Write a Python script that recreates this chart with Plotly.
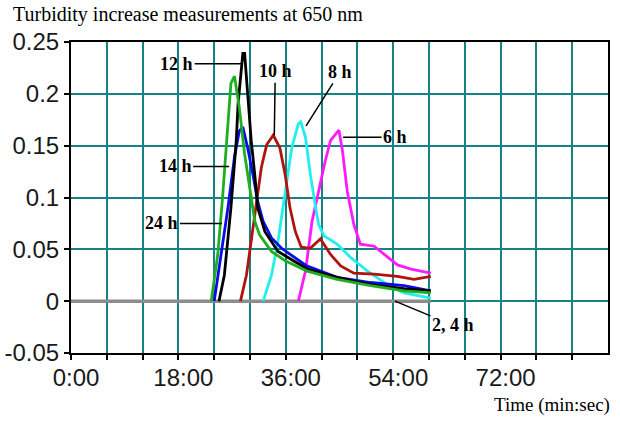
import plotly.graph_objects as go

# ---- data (time in minutes, turbidity increase at 650 nm) ----
t_2_4h = [0, 60.3]
v_2_4h = [0, 0]

t_6h = [38.1, 39.3, 40.4, 41.5, 42.6, 43.5, 44.9, 45.5, 46.3, 47.4, 48.5, 50.8, 52.5, 54.7, 57.0, 60.3]
v_6h = [0, 0.029, 0.077, 0.106, 0.135, 0.155, 0.165, 0.145, 0.106, 0.074, 0.055, 0.053, 0.045, 0.035, 0.031, 0.027]

t_8h = [32.2, 33.6, 34.7, 35.9, 37.0, 38.1, 38.5, 39.3, 40.1, 41.0, 41.5, 42.4, 44.6, 46.9, 49.7, 53.0, 55.8, 60.3]
v_8h = [0, 0.025, 0.058, 0.106, 0.148, 0.171, 0.173, 0.158, 0.123, 0.090, 0.074, 0.063, 0.055, 0.042, 0.029, 0.016, 0.008, 0.003]

t_10h = [28.4, 29.4, 30.2, 31.1, 31.9, 32.8, 33.9, 35.0, 35.9, 36.7, 37.6, 38.6, 40.1, 41.8, 43.5, 45.2, 47.4, 50.8, 54.7, 57.5, 60.3]
v_10h = [0, 0.025, 0.058, 0.096, 0.129, 0.151, 0.160, 0.148, 0.122, 0.090, 0.067, 0.052, 0.051, 0.060, 0.045, 0.034, 0.027, 0.026, 0.024, 0.021, 0.024]

t_14h = [24.0, 25.1, 26.3, 27.4, 28.2, 28.8, 29.6, 30.5, 31.3, 32.2, 33.6, 35.3, 37.5, 39.5, 44.6, 50.2, 55.8, 60.3]
v_14h = [0, 0.041, 0.090, 0.139, 0.164, 0.168, 0.148, 0.122, 0.096, 0.077, 0.061, 0.051, 0.042, 0.034, 0.023, 0.018, 0.015, 0.010]

t_12h = [24.8, 25.7, 26.8, 27.7, 28.0, 28.4, 28.8, 29.1, 29.6, 30.2, 30.8, 31.3, 32.5, 34.7, 37.0, 39.6, 44.6, 50.2, 55.8, 60.3]
v_12h = [0, 0.025, 0.090, 0.155, 0.190, 0.219, 0.239, 0.239, 0.203, 0.155, 0.122, 0.090, 0.067, 0.048, 0.040, 0.031, 0.023, 0.016, 0.012, 0.010]

t_24h = [23.5, 24.6, 25.4, 26.3, 26.8, 27.4, 28.2, 29.1, 29.9, 30.8, 31.6, 33.6, 35.9, 39.6, 44.6, 50.2, 55.8, 60.3]
v_24h = [0, 0.045, 0.100, 0.171, 0.210, 0.217, 0.187, 0.142, 0.109, 0.077, 0.064, 0.048, 0.039, 0.029, 0.021, 0.015, 0.010, 0.008]

x_tickvals = [0, 6, 12, 18, 24, 30, 36, 42, 48, 54, 60, 66, 72, 78, 84]
x_ticktext = ["0:00", "", "", "18:00", "", "", "36:00", "", "", "54:00", "", "", "72:00", "", ""]
y_tickvals = [-0.05, 0, 0.05, 0.1, 0.15, 0.2, 0.25]
y_ticktext = ["-0.05", "0", "0.05", "0.1", "0.15", "0.2", "0.25"]

# label name, target time, target value, text offset x, text offset y
labels = ["12 h", "10 h", "8 h", "6 h", "14 h", "24 h", "2, 4 h"]
label_t = [28.6, 34.07, 39.4, 45.6, 26.5, 25.3, 54.3]
label_v = [0.229, 0.160, 0.169, 0.158, 0.130, 0.075, 0.0]
label_ax = [-65, 1, 34, 52, -54, -60, 58]
label_ay = [0, -64, -54, 0, 0, 0, 24]

series = [
    (t_2_4h, v_2_4h, "#8c8c8c", 3.5, "2, 4 h"),
    (t_6h, v_6h, "#ff1aff", 2.8, "6 h"),
    (t_8h, v_8h, "#22eeee", 2.8, "8 h"),
    (t_10h, v_10h, "#b0140f", 2.8, "10 h"),
    (t_14h, v_14h, "#0a0aee", 2.8, "14 h"),
    (t_12h, v_12h, "#000000", 2.8, "12 h"),
    (t_24h, v_24h, "#1fae1f", 2.8, "24 h"),
]

fig = go.Figure()
for tx, vy, col, w, name in series:
    fig.add_trace(go.Scatter(x=tx, y=vy, mode="lines", name=name,
                             line=dict(color=col, width=w), showlegend=False))

for name, tx, vy, axp, ayp in zip(labels, label_t, label_v, label_ax, label_ay):
    fig.add_annotation(x=tx, y=vy, xref="x", yref="y", text="<b>" + name + "</b>",
                       showarrow=True, arrowhead=0, arrowwidth=1.5, arrowcolor="black",
                       ax=axp, ay=ayp,
                       font=dict(family="Liberation Serif", size=18, color="black"))

fig.add_annotation(text="Turbidity increase measurements at 650 nm", xref="paper", yref="paper",
                   x=-60 / 537, y=1 + 28 / 311, xanchor="left", yanchor="middle", showarrow=False,
                   font=dict(family="Liberation Serif", size=20, color="black"))
fig.add_annotation(text="Time (min:sec)", xref="paper", yref="paper",
                   x=1 + 4 / 537, y=-52 / 311, xanchor="right", yanchor="middle", showarrow=False,
                   font=dict(family="Liberation Serif", size=19, color="black"))

fig.update_layout(
    width=620, height=422,
    margin=dict(l=71, r=12, t=42, b=69, autoexpand=False),
    paper_bgcolor="white", plot_bgcolor="white",
    xaxis=dict(range=[0, 90], tickmode="array", tickvals=x_tickvals, ticktext=x_ticktext,
               showgrid=True, gridcolor="#178282", gridwidth=2,
               showline=True, linecolor="black", linewidth=2, mirror=True,
               ticks="outside", ticklen=5, tickwidth=2, tickcolor="black",
               zeroline=False, automargin=False, ticklabelstandoff=-3, ticklabelshift=5,
               tickfont=dict(family="Liberation Sans", size=24, color="#1a1a1a")),
    yaxis=dict(range=[-0.05, 0.25], tickmode="array", tickvals=y_tickvals, ticktext=y_ticktext,
               showgrid=True, gridcolor="#178282", gridwidth=2,
               showline=True, linecolor="black", linewidth=2, mirror=True,
               ticks="outside", ticklen=5, tickwidth=2, tickcolor="black",
               zeroline=False, automargin=False,
               tickfont=dict(family="Liberation Sans", size=24, color="#1a1a1a")),
)

fig.write_html("out.html", config={"displayModeBar": False},
               post_script="document.body.style.margin='0';")
